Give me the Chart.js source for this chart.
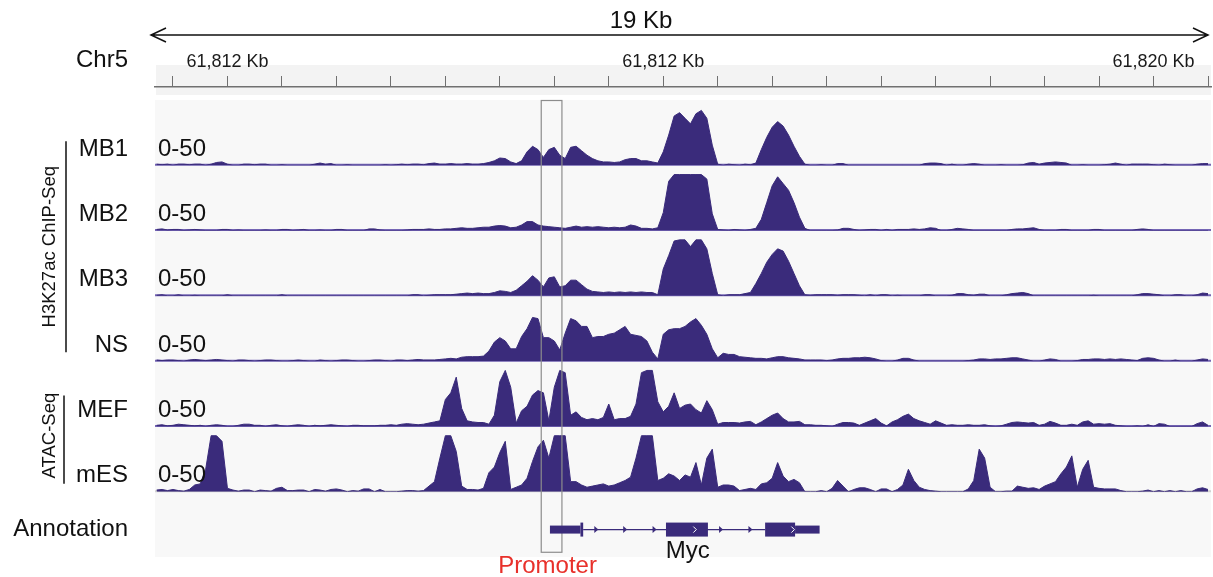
<!DOCTYPE html>
<html>
<head>
<meta charset="utf-8">
<title>Myc locus tracks</title>
<script src="https://cdn.jsdelivr.net/npm/chart.js@4.4.1/dist/chart.umd.min.js"></script>
<style>
  html, body { margin: 0; padding: 0; background: #fff; }
  #wrap { width: 1213px; height: 577px; position: relative; }
</style>
</head>
<body>
<div id="wrap"><canvas id="tracks"></canvas></div>
<script>
// signal bins are 0.1 kb wide, the first one sits 0.3 kb left of the first ruler tick
const binStartKb = -0.3;
const binSizeKb = 0.1;

const rulerTicks = [0,1,2,3,4,5,6,7,8,9,10,11,12,13,14,15,16,17,18,19];
const rulerLabels = ['','61,812 Kb','','','','','','','','61,812 Kb','','','','','','','','','61,820 Kb',''];

const trackNames = ['MB1','MB2','MB3','NS','MEF','mES'];
const trackRange = '0-50';

const mb1 = [
  1,0.5,1,0,1,1,0.5,1,1,0,
  1,2.5,3,1,0,0,1,1,0.5,1,
  1,0,0,0.5,0,0,0,0,0,1,
  2,1,1.5,0,0,0.5,0,0,0,0,
  0,0,0.5,0,0.5,1,0.5,1,1,0.5,
  1.5,2,1,1,1.5,1,1,1.5,1,1,
  1.5,2.5,4,6.5,6,3,1.5,4,12,17,
  14,7,14,16,9,6,16,17,13,9,
  6,4,3,3,2.5,3,5,6,6,4,
  4,3,2,12,27,44,47,42,37,46,
  49,42,18,1,0,1,0.5,0,1,0.5,
  2,14,25,34,39,35,27,17,8,1,
  0,0,0.5,0,0,1.5,1.5,0,0,0,
  0,0,0,0,0,0,0,0,0,0,
  0,1.5,2,2,1.5,0,1,0,0,1,
  1.5,1,0,0,0,0.5,0,0,0,0.5,
  2,2.5,1,2,2.5,3,2.5,2,0,0,
  0.5,0,0,0,0.5,1,2,1,0,1,
  1,1,1,0.5,0,1,0.5,0,0,0,
  0,1,1.5,1.5
];
const mb2 = [
  1,1.5,0.5,1,1,0,0.5,1,0.5,0,
  0,0,1,1,0,0.5,0,0,0,0,
  0.5,0,0,1,1,0,0.5,1,0,0,
  0.5,0,0,1,1,0,0,0,0,1.5,
  1.5,0.5,0,0,0,0,0.5,1,1,1,
  1.5,1,1,1.5,1.5,2,2.5,2,2,2.5,
  3,3,4,4.5,4,2.5,3,5,8,8,
  5,4,3.5,3,2.5,2,3,4,3,3.5,
  3,3.5,3,2.5,3,2.5,3,5,4,2,
  2,1.5,2.5,16,44,50,50,50,50,50,
  50,46,15,1,0.5,0,1,0.5,0,1,
  2,10,25,40,48,42,36,25,12,2,
  0,0,0,0,0,0.5,2,2,1,0,
  0.5,1,1,0,1,0,1,1,1,1.5,
  1,1.5,2.5,2,0,0,1,2,1.5,1,
  0,0,0,0,0,0,0,1,1.5,1.5,
  2,2.5,1,0,0,0,1,1,0,0,
  0,0,1,1,0,0,0,0,0,0,
  1,1.5,1,0,0,0,0,0,0,0,
  0,0,0,0
];
const mb3 = [
  0.5,1,0,0,1,0,0,0.5,0,0,
  0,0,0,1,0,0,0,0,0,0,
  0,0,0,1,0,0,0,0,0,0,
  0,0,0,0,0,0,0,0,0,0,
  0,0,0,0,0,0,0,1,1,0,
  0.5,1,1,1,1,1.5,2,2.5,2,2.5,
  2,2,3,4.5,4,3,5,9,13,18,
  14,8,16,17,8,9,14,14,10,6,
  4,3.5,3,3.5,3,3.5,3,3.5,3,3.5,
  3,3,1,24,36,49,50,50,44,50,
  50,42,20,1,0,1,1,1,2,3,
  11,20,30,37,42,40,31,20,9,1,
  0.5,1,1,1,1,0.5,1,1,1,0.5,
  0,1,0,1,1,0,0.5,0,0,0,
  0,1,1,0,0,0,0.5,2,2,1,
  0.5,1.5,1.5,0,0,0,1,2,2.5,3,
  2,0,0,0,0,0,0,0,0,0,
  0,0,0.5,0,0,0,0,0,0,0,
  1,2,2,1.5,1,0,0,1,1,0,
  0,1,2.5,2
];
const ns = [
  1,0.5,1,1,0.5,0,1,1.5,1,0.5,
  1,1.5,1,0.5,0,1,1,0.5,0,0.5,
  1,1,0.5,0,0,0.5,1,0.5,0,0,
  1,0.5,0,0.5,1,1,0.5,0,0,0.5,
  1,1,0.5,0,1,1,0.5,1,1.5,1,
  1,1,1.5,2,2.5,2,3.5,4,4,4,
  4.5,9,17,21,18,11,11,22,29,39,
  38,21,21,18,10,25,38,36,31,31,
  21,22,22,24,25,28,31,24,23,22,
  18,8,2,24,28,29,29,31,35,38,
  32,24,11,3,7,6,6,4,3.5,3,
  2.5,2.5,2,3,4,4,3,2.5,2,1,
  1,1,1,0.5,1,2,2.5,2.5,3,3,
  3.5,3,2,0.5,0,0,1,2.5,2.5,1,
  0,0,0,0,0,0,0,0,0,0.5,
  1,2,2,1.5,2,2,2.5,3,3,2,
  1,0,0,1,2,1.5,0,0,0,0.5,
  1.5,1.5,2,2,1.5,2,1.5,2,1.5,1,
  0.5,2.5,3,2.5,1,0,0,1,0,0,
  0,1,2,1.5
];
const mef = [
  1,1.5,0.5,1,2,1.5,1,0.5,1,0,
  1,1.5,1,0,0,1,2,2,1,1,
  0,1,1.5,0.5,0,1,1.5,1,0,1,
  0.5,1,1.5,1,0.5,0,1,1,0.5,0.5,
  0.5,1,1,1.5,1,2,2.5,2,1.5,2,
  3,4,5,24,30,44,16,5,4,3.5,
  3.5,2,10,40,50,35,3,14,18,28,
  32,30,5,35,50,48,10,13,8,6,
  7,6,8,20,6,7,7,9,20,48,
  50,50,22,13,18,30,16,19,20,15,
  12,23,15,2,3.5,3.5,3.5,3,4,4.5,
  1.5,4,7,10,12,7,4,4,4.5,1.5,
  1.5,1,1,0.5,0,2,3.5,3.5,3,1,
  3,5,7,3,0.5,4,6,9,11,7,
  5,3.5,2,5,3,1,1.5,1,1,1.5,
  1,1,1.5,0.5,0,0.5,2,3.5,4,3.5,
  3,3.5,1,2,4.5,3,1,1,2,1,
  4,5,2,2.5,2,2.5,1,0.5,0,0,
  0.5,0,1.5,0,2.5,2,0,0,0,0,
  0,2.5,4,1
];
const mes = [
  1.5,2,1,2,1,0.5,2,6,7,20,
  50,50,45,3,1.5,0.5,1.5,1.5,0,1.5,
  1,0.5,3,4,1,1,1.5,1.5,0,2,
  1.5,0.5,2,2.5,1.5,0,1,0.5,2.5,2.5,
  0,2,0,0,0,0.5,1,1,0.5,1,
  5,9,30,50,50,36,5,2,2,1.5,
  3,17,22,35,45,2,4,6,12,27,
  40,46,30,50,50,50,9,9,6,4,
  5,6,7,5,6,8,10,13,30,50,
  50,50,10,12,16,14,10,15,13,26,
  6,30,38,4,6,6,5,1,2,3,
  2,7,8,12,26,14,9,11,8,0,
  0,0,1,0,3,10,5,0,2,3.5,
  3.5,2,0,2.5,2.5,0,2,6,20,10,
  4,2,1,0.5,0,0,0,0,0,2.5,
  10,38,30,4,0,0,0.5,0.5,5,4,
  3,3.5,2,5,7,9,16,22,32,4,
  20,28,4,3,2.5,2.5,2.5,1,0,0,
  0,0.5,1.5,0,1,0,1,0,1,0,
  0,2.5,3.5,2
];

// Myc gene model and promoter window, in kb on the ruler
const promoterKb = [6.76, 7.14];
const mycUtr = [[6.92, 7.48], [11.42, 11.87]];
const mycCds = [[7.48, 7.53], [9.05, 9.82], [10.87, 11.42]];
const mycIntron = [7.53, 10.87];
const mycIntronMarks = [7.78, 8.31, 8.85, 10.07, 10.61];
const mycExonMarks = [9.58, 11.38];

const NAVY = '#3a2b7b';
const FONT = "'Liberation Sans', Arial, sans-serif";
Chart.defaults.font.family = FONT;

const signals = [mb1, mb2, mb3, ns, mef, mes];
const axisIds = trackNames.map((n, i) => 'yT' + i);
const binKb = mb1.map((v, i) => +(binStartKb + i * binSizeKb).toFixed(2));

const scales = {
  x: {
    type: 'linear',
    position: 'top',
    min: -0.33,
    max: 19.055,
    afterBuildTicks: s => { s.ticks = rulerTicks.map(v => ({value: v})); },
    ticks: {
      autoSkip: false, maxRotation: 0, padding: 3, color: '#1a1a1a',
      font: {size: 18},
      callback: (v, i) => rulerLabels[i]
    },
    grid: {drawOnChartArea: false, tickLength: 11, color: '#707070', lineWidth: 1},
    border: {color: '#707070', width: 1.5}
  },
  yGap: {axis: 'y', position: 'left', display: false, stack: 'tracks', stackWeight: 13, weight: 9, min: 0, max: 1}
};
axisIds.forEach((id, i) => {
  scales[id] = {axis: 'y', position: 'left', display: false, stack: 'tracks',
    stackWeight: 65.3, weight: 8 - i, min: 0, max: 58.3};
});
scales.yAnn = {axis: 'y', position: 'left', display: false, stack: 'tracks', stackWeight: 65.3, weight: 1, min: 0, max: 1};

const font = (size) => size + 'px ' + FONT;

const trackDecor = {
  id: 'trackDecor',
  beforeDraw(chart) {
    const {ctx, chartArea: a, scales: s} = chart;
    ctx.save();
    ctx.fillStyle = '#fff';
    ctx.fillRect(0, 0, chart.width, chart.height);
    // ruler band
    ctx.fillStyle = '#f3f3f3';
    ctx.fillRect(a.left + 1, s.x.bottom - 22, a.right - a.left - 1, 30);
    // track panel
    ctx.fillStyle = '#f8f8f8';
    ctx.fillRect(a.left, s.yGap.bottom, a.right - a.left, a.bottom - s.yGap.bottom);
    // baselines
    axisIds.forEach((id, i) => {
      const y = s[id].getPixelForValue(0);
      ctx.strokeStyle = i === 5 ? '#d2d2d2' : '#7566b5';
      ctx.lineWidth = 2;
      ctx.beginPath();
      ctx.moveTo(a.left, y - 0.5);
      ctx.lineTo(a.right, y - 0.5);
      ctx.stroke();
    });
    ctx.restore();
  },
  afterDatasetsDraw(chart) {
    const {ctx, scales: s} = chart;
    const x = s.x, ann = s.yAnn;
    ctx.save();
    // promoter window
    const p0 = x.getPixelForValue(promoterKb[0]);
    const p1 = x.getPixelForValue(promoterKb[1]);
    const pBottom = ann.getPixelForValue(0.08);
    ctx.strokeStyle = '#8c8c8c';
    ctx.lineWidth = 1.2;
    ctx.strokeRect(p0, s.yGap.bottom + 0.5, p1 - p0, pBottom - s.yGap.bottom);

    // gene model
    const gy = ann.getPixelForValue(0.42);
    ctx.strokeStyle = NAVY;
    ctx.fillStyle = NAVY;
    ctx.lineWidth = 1.2;
    ctx.beginPath();
    ctx.moveTo(x.getPixelForValue(mycIntron[0]), gy);
    ctx.lineTo(x.getPixelForValue(mycIntron[1]), gy);
    ctx.stroke();
    mycUtr.forEach(([b, e]) => {
      const x0 = x.getPixelForValue(b), x1 = x.getPixelForValue(e);
      ctx.fillRect(x0, gy - 4, x1 - x0, 8);
    });
    mycCds.forEach(([b, e]) => {
      const x0 = x.getPixelForValue(b), x1 = x.getPixelForValue(e);
      ctx.fillRect(x0, gy - 7, x1 - x0, 14);
    });
    mycIntronMarks.forEach(k => {
      const px = x.getPixelForValue(k);
      ctx.beginPath();
      ctx.moveTo(px - 2.5, gy - 3.5);
      ctx.lineTo(px + 1.5, gy);
      ctx.lineTo(px - 2.5, gy + 3.5);
      ctx.closePath();
      ctx.fill();
    });
    ctx.strokeStyle = '#ffffff';
    ctx.lineWidth = 1;
    mycExonMarks.forEach(k => {
      const px = x.getPixelForValue(k);
      ctx.beginPath();
      ctx.moveTo(px - 1.5, gy - 3);
      ctx.lineTo(px + 1.5, gy);
      ctx.lineTo(px - 1.5, gy + 3);
      ctx.stroke();
    });

    ctx.fillStyle = '#111';
    ctx.font = font(24);
    ctx.textAlign = 'center';
    ctx.textBaseline = 'middle';
    ctx.fillText('Myc', x.getPixelForValue((mycUtr[0][0] + mycUtr[1][1]) / 2) + 3, ann.getPixelForValue(0.08));
    ctx.fillStyle = '#e8302a';
    ctx.fillText('Promoter', (p0 + p1) / 2 - 4, pBottom + 15);
    ctx.restore();
  },
  afterDraw(chart) {
    const {ctx, chartArea: a, scales: s} = chart;
    const x = s.x;
    ctx.save();
    ctx.fillStyle = '#111';
    ctx.strokeStyle = '#111';

    // span arrow
    const ax0 = a.left - 4, ax1 = x.getPixelForValue(19), ay = 35;
    ctx.lineWidth = 1.5;
    ctx.beginPath();
    ctx.moveTo(ax0, ay); ctx.lineTo(ax1, ay);
    ctx.moveTo(ax0 + 15, ay - 7); ctx.lineTo(ax0, ay); ctx.lineTo(ax0 + 15, ay + 7);
    ctx.moveTo(ax1 - 15, ay - 7); ctx.lineTo(ax1, ay); ctx.lineTo(ax1 - 15, ay + 7);
    ctx.stroke();

    ctx.font = font(24);
    ctx.textBaseline = 'middle';
    ctx.textAlign = 'center';
    ctx.fillText('19 Kb', 641, 21);

    ctx.textAlign = 'right';
    ctx.fillText('Chr5', 128, 60);

    axisIds.forEach((id, i) => {
      const base = s[id].getPixelForValue(0);
      ctx.textAlign = 'right';
      ctx.fillText(trackNames[i], 128, base - 16);
      ctx.textAlign = 'left';
      ctx.fillText(trackRange, a.left + 3, base - 16);
    });
    ctx.textAlign = 'right';
    ctx.fillText('Annotation', 128, s.yAnn.getPixelForValue(0.5) + 5);

    // group brackets
    const base = id => s[id].getPixelForValue(0);
    ctx.lineWidth = 1.5;
    ctx.beginPath();
    ctx.moveTo(66, base('yT0') - 24); ctx.lineTo(66, base('yT3') - 9);
    ctx.moveTo(64, base('yT4') - 31); ctx.lineTo(64, base('yT5') - 8);
    ctx.stroke();

    ctx.font = font(18.5);
    ctx.textAlign = 'center';
    [['H3K27ac ChIP-Seq', base('yT0') - 24, base('yT3') - 9],
     ['ATAC-Seq', base('yT4') - 33, base('yT5') - 14]].forEach(([t, y0, y1]) => {
      ctx.save();
      ctx.translate(50, (y0 + y1) / 2);
      ctx.rotate(-Math.PI / 2);
      ctx.fillText(t, 0, 0);
      ctx.restore();
    });
    ctx.restore();
  }
};

new Chart(document.getElementById('tracks'), {
  type: 'line',
  data: {
    labels: binKb,
    datasets: signals.map((vals, i) => ({
      label: trackNames[i],
      data: vals,
      yAxisID: axisIds[i],
      borderColor: NAVY,
      backgroundColor: NAVY,
      borderWidth: 1,
      fill: 'origin',
      pointRadius: 0,
      tension: 0
    }))
  },
  options: {
    responsive: true,
    maintainAspectRatio: false,
    animation: false,
    events: [],
    layout: {padding: {left: 155, right: 2, top: 48.4, bottom: 20}},
    plugins: {legend: {display: false}, tooltip: {enabled: false}},
    scales: scales
  },
  plugins: [trackDecor]
});
</script>
</body>
</html>
